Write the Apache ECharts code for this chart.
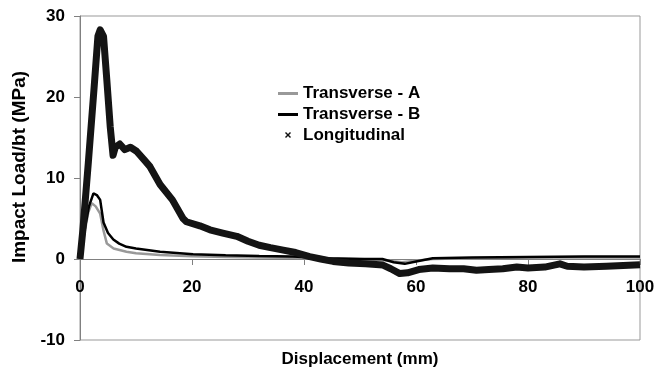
<!DOCTYPE html>
<html>
<head>
<meta charset="utf-8">
<script src="https://cdn.jsdelivr.net/npm/echarts@6/dist/echarts.min.js"></script>
<style>
  html, body { margin: 0; padding: 0; background: #fff; }
  #chart { width: 666px; height: 374px; }
</style>
</head>
<body>
<div id="chart"></div>
<script>
// values
const seriesNames = ["Transverse - A", "Transverse - B", "Longitudinal"];

const transAX = [0, 0.8, 1.5, 2.1, 2.8, 3.6, 4.2, 4.8, 6, 8.3, 10, 14.3, 20, 26, 32, 38, 44, 50, 55, 57.5, 60, 63, 70, 80, 90, 100];
const transAY = [0, 3.2, 5.8, 6.9, 6.5, 5.6, 3.5, 1.9, 1.3, 0.9, 0.7, 0.5, 0.35, 0.25, 0.2, 0.15, 0.05, 0, -0.2, -0.4, -0.2, 0, 0.1, 0.2, 0.2, 0.2];

const transBX = [0, 0.8, 1.6, 2.4, 3.0, 3.6, 4.2, 5.0, 5.95, 7.0, 8.3, 10, 14.3, 20.2, 26, 32, 38, 44, 50, 54, 56, 58, 60, 63, 70, 80, 90, 100];
const transBY = [0, 3.5, 6.5, 8.1, 7.9, 7.3, 4.5, 3.2, 2.4, 1.9, 1.5, 1.3, 0.9, 0.6, 0.45, 0.37, 0.3, 0.1, 0, 0, -0.4, -0.6, -0.3, 0.1, 0.2, 0.25, 0.3, 0.3];

const longX = [0, 0.5, 1.5, 2.5, 3.2, 3.6, 4.2, 4.8, 5.4, 5.9, 6.3, 7.1, 8.0, 9.0, 10.1, 11.5, 12.5, 14.3, 16.5, 18.4, 19.0, 21.4, 23.2, 25.5, 28.0, 30.0, 32.0, 34.0, 36.3, 38.5, 41.0, 43.0, 45.2, 48.0, 51.0, 54.1, 55.5, 57.1, 58.5, 60.5, 63, 66, 68.5, 70.8, 73, 75.5, 78, 80, 83, 85.7, 87, 90, 94, 97, 100];
const longY = [0, 3.5, 12, 21, 27.5, 28.3, 27.5, 22, 16.3, 12.8, 13.8, 14.2, 13.5, 13.8, 13.3, 12.2, 11.4, 9.2, 7.3, 5.0, 4.6, 4.1, 3.6, 3.2, 2.8, 2.2, 1.7, 1.4, 1.1, 0.8, 0.3, 0, -0.3, -0.5, -0.6, -0.75, -1.2, -1.8, -1.7, -1.3, -1.1, -1.2, -1.2, -1.4, -1.3, -1.2, -1.0, -1.1, -1.0, -0.6, -0.9, -1.0, -0.9, -0.8, -0.7];

const xTicks = { min: 0, max: 100, interval: 20 };
const yTicks = { min: -10, max: 30, interval: 10 };

const pairs = (xs, ys) => xs.map((x, i) => [x, ys[i]]);

const font = "'Liberation Sans', Arial, sans-serif";
const axisGrey = "#808080";

const chart = echarts.init(document.getElementById("chart"));
chart.setOption({
  animation: false,
  backgroundColor: "#fff",
  grid: {
    left: 80, right: 26, top: 16, bottom: 34,
    containLabel: false, outerBoundsMode: "none",
    show: true, borderColor: "#999", borderWidth: 1
  },
  legend: {
    orient: "vertical",
    left: 273, top: 80,
    itemWidth: 20, itemHeight: 12, itemGap: 4,
    textStyle: { fontFamily: font, fontWeight: "bold", fontSize: 17, color: "#000" },
    data: [
      { name: seriesNames[0], icon: "path://M0,0H20V3H0Z" },
      { name: seriesNames[1], icon: "path://M0,0H20V3H0Z" },
      { name: seriesNames[2], icon: "path://M0,0M20,12M7,3.5L8,2.5L10,4.5L12,2.5L13,3.5L11,5.5L13,7.5L12,8.5L10,6.5L8,8.5L7,7.5L9,5.5Z" }
    ]
  },
  xAxis: {
    type: "value",
    min: xTicks.min, max: xTicks.max, interval: xTicks.interval,
    // axis drawn through y = 0 (grid is 324px high for 40 units, zero sits 81px above the bottom)
    offset: -81,
    name: "Displacement (mm)",
    nameLocation: "middle",
    nameGap: 92,
    nameTextStyle: { fontFamily: font, fontWeight: "bold", fontSize: 17, color: "#000" },
    axisLine: { onZero: false, lineStyle: { color: axisGrey, width: 1 } },
    axisTick: { show: true, length: 6, lineStyle: { color: axisGrey } },
    axisLabel: { margin: 20, fontFamily: font, fontWeight: "bold", fontSize: 17, color: "#000" },
    splitLine: { show: false }
  },
  yAxis: {
    type: "value",
    min: yTicks.min, max: yTicks.max, interval: yTicks.interval,
    name: "Impact Load/bt (MPa)",
    nameLocation: "middle",
    nameGap: 42,
    nameTextStyle: { fontFamily: font, fontWeight: "bold", fontSize: 19, color: "#000", padding: [0, 0, 0, 22] },
    axisLine: { show: true, onZero: false, lineStyle: { color: axisGrey, width: 1 } },
    axisTick: { show: true, length: 6, lineStyle: { color: axisGrey } },
    axisLabel: { margin: 15, fontFamily: font, fontWeight: "bold", fontSize: 17, color: "#000" },
    splitLine: { show: false }
  },
  series: [
    {
      name: seriesNames[0], type: "line", showSymbol: false, symbol: "none",
      data: pairs(transAX, transAY),
      itemStyle: { color: "#999" },
      lineStyle: { color: "#999", width: 2.5 }
    },
    {
      name: seriesNames[1], type: "line", showSymbol: false, symbol: "none",
      data: pairs(transBX, transBY),
      itemStyle: { color: "#000" },
      lineStyle: { color: "#000", width: 2.5 }
    },
    {
      name: seriesNames[2], type: "line", showSymbol: false, symbol: "none",
      data: pairs(longX, longY),
      itemStyle: { color: "#111" },
      lineStyle: { color: "#141414", width: 7, join: "round" }
    }
  ]
});
</script>
</body>
</html>
